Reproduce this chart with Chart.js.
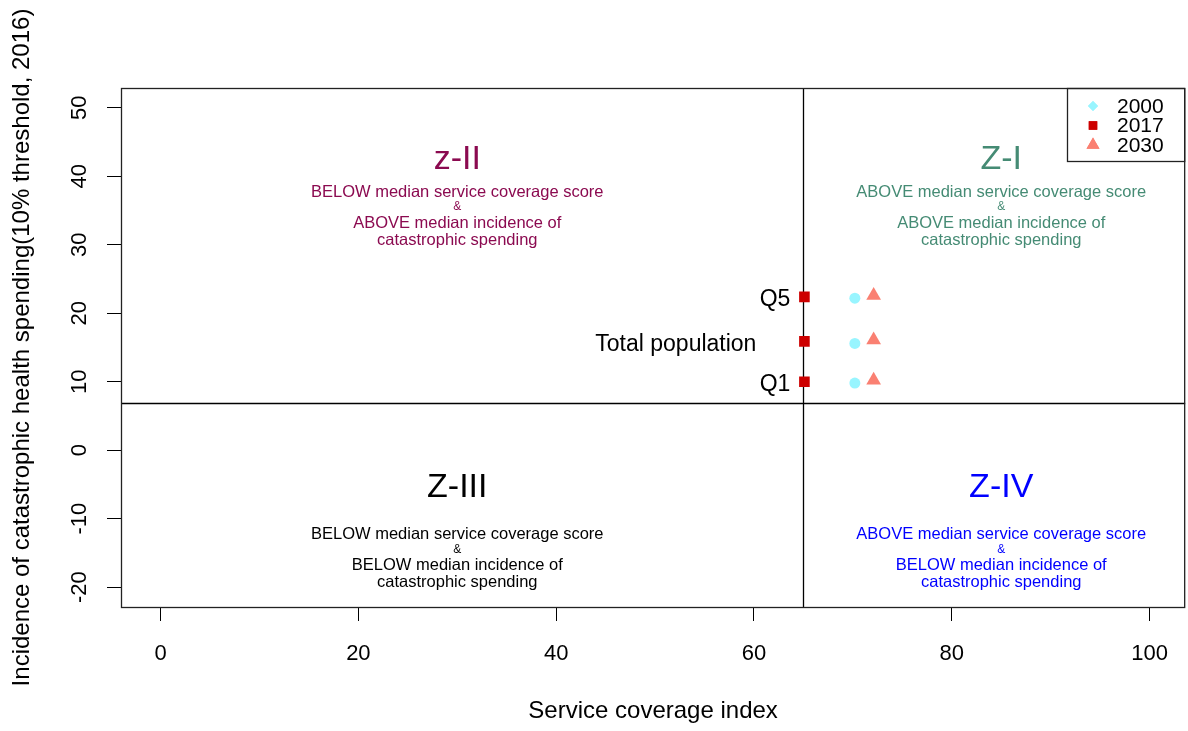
<!DOCTYPE html>
<html>
<head>
<meta charset="utf-8">
<script src="https://cdn.jsdelivr.net/npm/chart.js@4/dist/chart.umd.min.js"></script>
<style>
  body { margin: 0; background: #fff; }
  canvas { display: block; }
</style>
</head>
<body>
<canvas id="quadChart" width="1188" height="731"></canvas>
<script>
// Dados
const groups = ['Q5', 'Total population', 'Q1'];
const years = ['2000', '2017', '2030'];
const sci2000 = [70.2, 70.2, 70.2];
const inc2000 = [22.2, 15.6, 9.8];
const sci2017 = [65.1, 65.1, 65.1];
const inc2017 = [22.4, 15.9, 10.0];
const sci2030 = [72.1, 72.1, 72.1];
const inc2030 = [22.6, 16.1, 10.2];
const medianSci = 65;
const medianInc = 6.9;
const xTicks = [0, 20, 40, 60, 80, 100];
const yTicks = [-20, -10, 0, 10, 20, 30, 40, 50];

const quadTitles = ['z-II', 'Z-I', 'Z-III', 'Z-IV'];
const quadLines = [
    ['BELOW median service coverage score', '&', 'ABOVE median incidence of', 'catastrophic spending'],
    ['ABOVE median service coverage score', '&', 'ABOVE median incidence of', 'catastrophic spending'],
    ['BELOW median service coverage score', '&', 'BELOW median incidence of', 'catastrophic spending'],
    ['ABOVE median service coverage score', '&', 'BELOW median incidence of', 'catastrophic spending']
];

// Estilos e posições
const colors = { '2000': '#98F5FF', '2017': '#CD0000', '2030': '#FA8072' };
const quadColors = ['#8B0A50', '#458B74', '#000000', '#0000FF'];
const quadAnchors = [
    { x: 30, title: 42.4, text: 37.7 },
    { x: 85, title: 42.4, text: 37.7 },
    { x: 30, title: -5.4, text: -12.3 },
    { x: 85, title: -5.4, text: -12.3 }
];
const lineOffsets = [0, 15, 31, 48];
const labelOffsets = [14, 48, 14];
const FONT = '"Liberation Sans", Arial, sans-serif';

const toPoints = (xs, ys) => xs.map((x, i) => ({ x: x, y: ys[i] }));

const annotatePlugin = {
    id: 'annotate',
    beforeDatasetsDraw(chart) {
        const { ctx, chartArea: a, scales: { x, y } } = chart;
        ctx.save();
        ctx.strokeStyle = '#000';
        ctx.lineWidth = 1.3;
        ctx.beginPath();
        const mx = Math.round(x.getPixelForValue(medianSci)) + 0.5;
        const my = Math.round(y.getPixelForValue(medianInc)) + 0.5;
        ctx.moveTo(mx, a.top);
        ctx.lineTo(mx, a.bottom);
        ctx.moveTo(a.left, my);
        ctx.lineTo(a.right, my);
        ctx.stroke();
        ctx.restore();
    },
    afterDraw(chart) {
        const { ctx, chartArea: a, scales: { x, y } } = chart;
        ctx.save();

        // caixa do gráfico
        ctx.strokeStyle = '#222';
        ctx.lineWidth = 1.3;
        ctx.strokeRect(a.left + 0.5, a.top + 0.5, a.right - a.left - 1, a.bottom - a.top);

        // textos dos quadrantes
        ctx.textAlign = 'center';
        ctx.textBaseline = 'middle';
        quadTitles.forEach((t, q) => {
            const px = x.getPixelForValue(quadAnchors[q].x);
            ctx.fillStyle = quadColors[q];
            ctx.font = '34px ' + FONT;
            ctx.fillText(t, px, y.getPixelForValue(quadAnchors[q].title));
            const ty = y.getPixelForValue(quadAnchors[q].text);
            quadLines[q].forEach((line, k) => {
                ctx.font = (line === '&' ? '12px ' : '16.5px ') + FONT;
                ctx.fillText(line, px, ty + lineOffsets[k]);
            });
        });

        // rótulos dos grupos
        ctx.fillStyle = '#000';
        ctx.font = '23px ' + FONT;
        ctx.textAlign = 'right';
        const meta = chart.getDatasetMeta(1);
        groups.forEach((g, i) => {
            const pt = meta.data[i];
            ctx.fillText(g, pt.x - labelOffsets[i], pt.y + 3);
        });

        // legenda
        const lx = 1067, ly = a.top, lw = a.right - lx - 1, lh = 73;
        ctx.strokeStyle = '#222';
        ctx.lineWidth = 1.3;
        ctx.strokeRect(lx + 0.5, ly + 0.5, lw, lh);
        ctx.font = '21px ' + FONT;
        ctx.textAlign = 'left';
        const styles = ['rectRot', 'rect', 'triangle'];
        const radii = [5, 6, 7.5];
        years.forEach((yr, k) => {
            const ry = ly + 18 + k * 19.5;
            ctx.fillStyle = colors[yr];
            Chart.helpers.drawPoint(ctx, { pointStyle: styles[k], radius: radii[k], rotation: 0, borderWidth: 0 }, lx + 26, ry);
            ctx.fill();
            ctx.fillStyle = '#000';
            ctx.fillText(yr, lx + 50, ry + 1);
        });
        ctx.restore();
    }
};

const ctx = document.getElementById('quadChart').getContext('2d');
new Chart(ctx, {
    type: 'scatter',
    data: {
        datasets: [
            {
                label: '2000',
                data: toPoints(sci2000, inc2000),
                backgroundColor: colors['2000'],
                borderWidth: 0,
                pointStyle: 'circle',
                pointRadius: 5.5
            },
            {
                label: '2017',
                data: toPoints(sci2017, inc2017),
                backgroundColor: colors['2017'],
                borderWidth: 0,
                pointStyle: 'rect',
                pointRadius: 7.5
            },
            {
                label: '2030',
                data: toPoints(sci2030, inc2030),
                backgroundColor: colors['2030'],
                borderWidth: 0,
                pointStyle: 'triangle',
                pointRadius: 8.5
            }
        ]
    },
    options: {
        responsive: false,
        animation: false,
        layout: { autoPadding: false, padding: { top: 88, right: 2, left: 0, bottom: 0 } },
        plugins: {
            legend: { display: false },
            tooltip: { enabled: false }
        },
        scales: {
            x: {
                type: 'linear',
                min: -4,
                max: 103.6,
                afterBuildTicks: s => { s.ticks = xTicks.map(v => ({ value: v })); },
                afterFit: s => { s.height = 124; },
                grid: { drawOnChartArea: false, drawTicks: true, tickLength: 14, color: '#000' },
                border: { display: false },
                ticks: { color: '#000', font: { family: FONT, size: 22 }, padding: 20, maxRotation: 0 },
                title: {
                    display: true,
                    text: 'Service coverage index',
                    color: '#000',
                    font: { family: FONT, size: 24 },
                    padding: { top: 0, bottom: 5 }
                }
            },
            y: {
                type: 'linear',
                min: -22.9,
                max: 52.9,
                afterBuildTicks: s => { s.ticks = yTicks.map(v => ({ value: v })); },
                afterFit: s => { s.width = 121; },
                grid: { drawOnChartArea: false, drawTicks: true, tickLength: 14, color: '#000' },
                border: { display: false },
                ticks: {
                    color: '#000',
                    font: { family: FONT, size: 22 },
                    padding: 11,
                    minRotation: 90,
                    maxRotation: 90,
                    crossAlign: 'center'
                },
                title: {
                    display: true,
                    text: 'Incidence of catastrophic health spending(10% threshold, 2016)',
                    color: '#000',
                    font: { family: FONT, size: 24 },
                    padding: { top: 8, bottom: 0 }
                }
            }
        }
    },
    plugins: [annotatePlugin]
});
</script>
</body>
</html>
